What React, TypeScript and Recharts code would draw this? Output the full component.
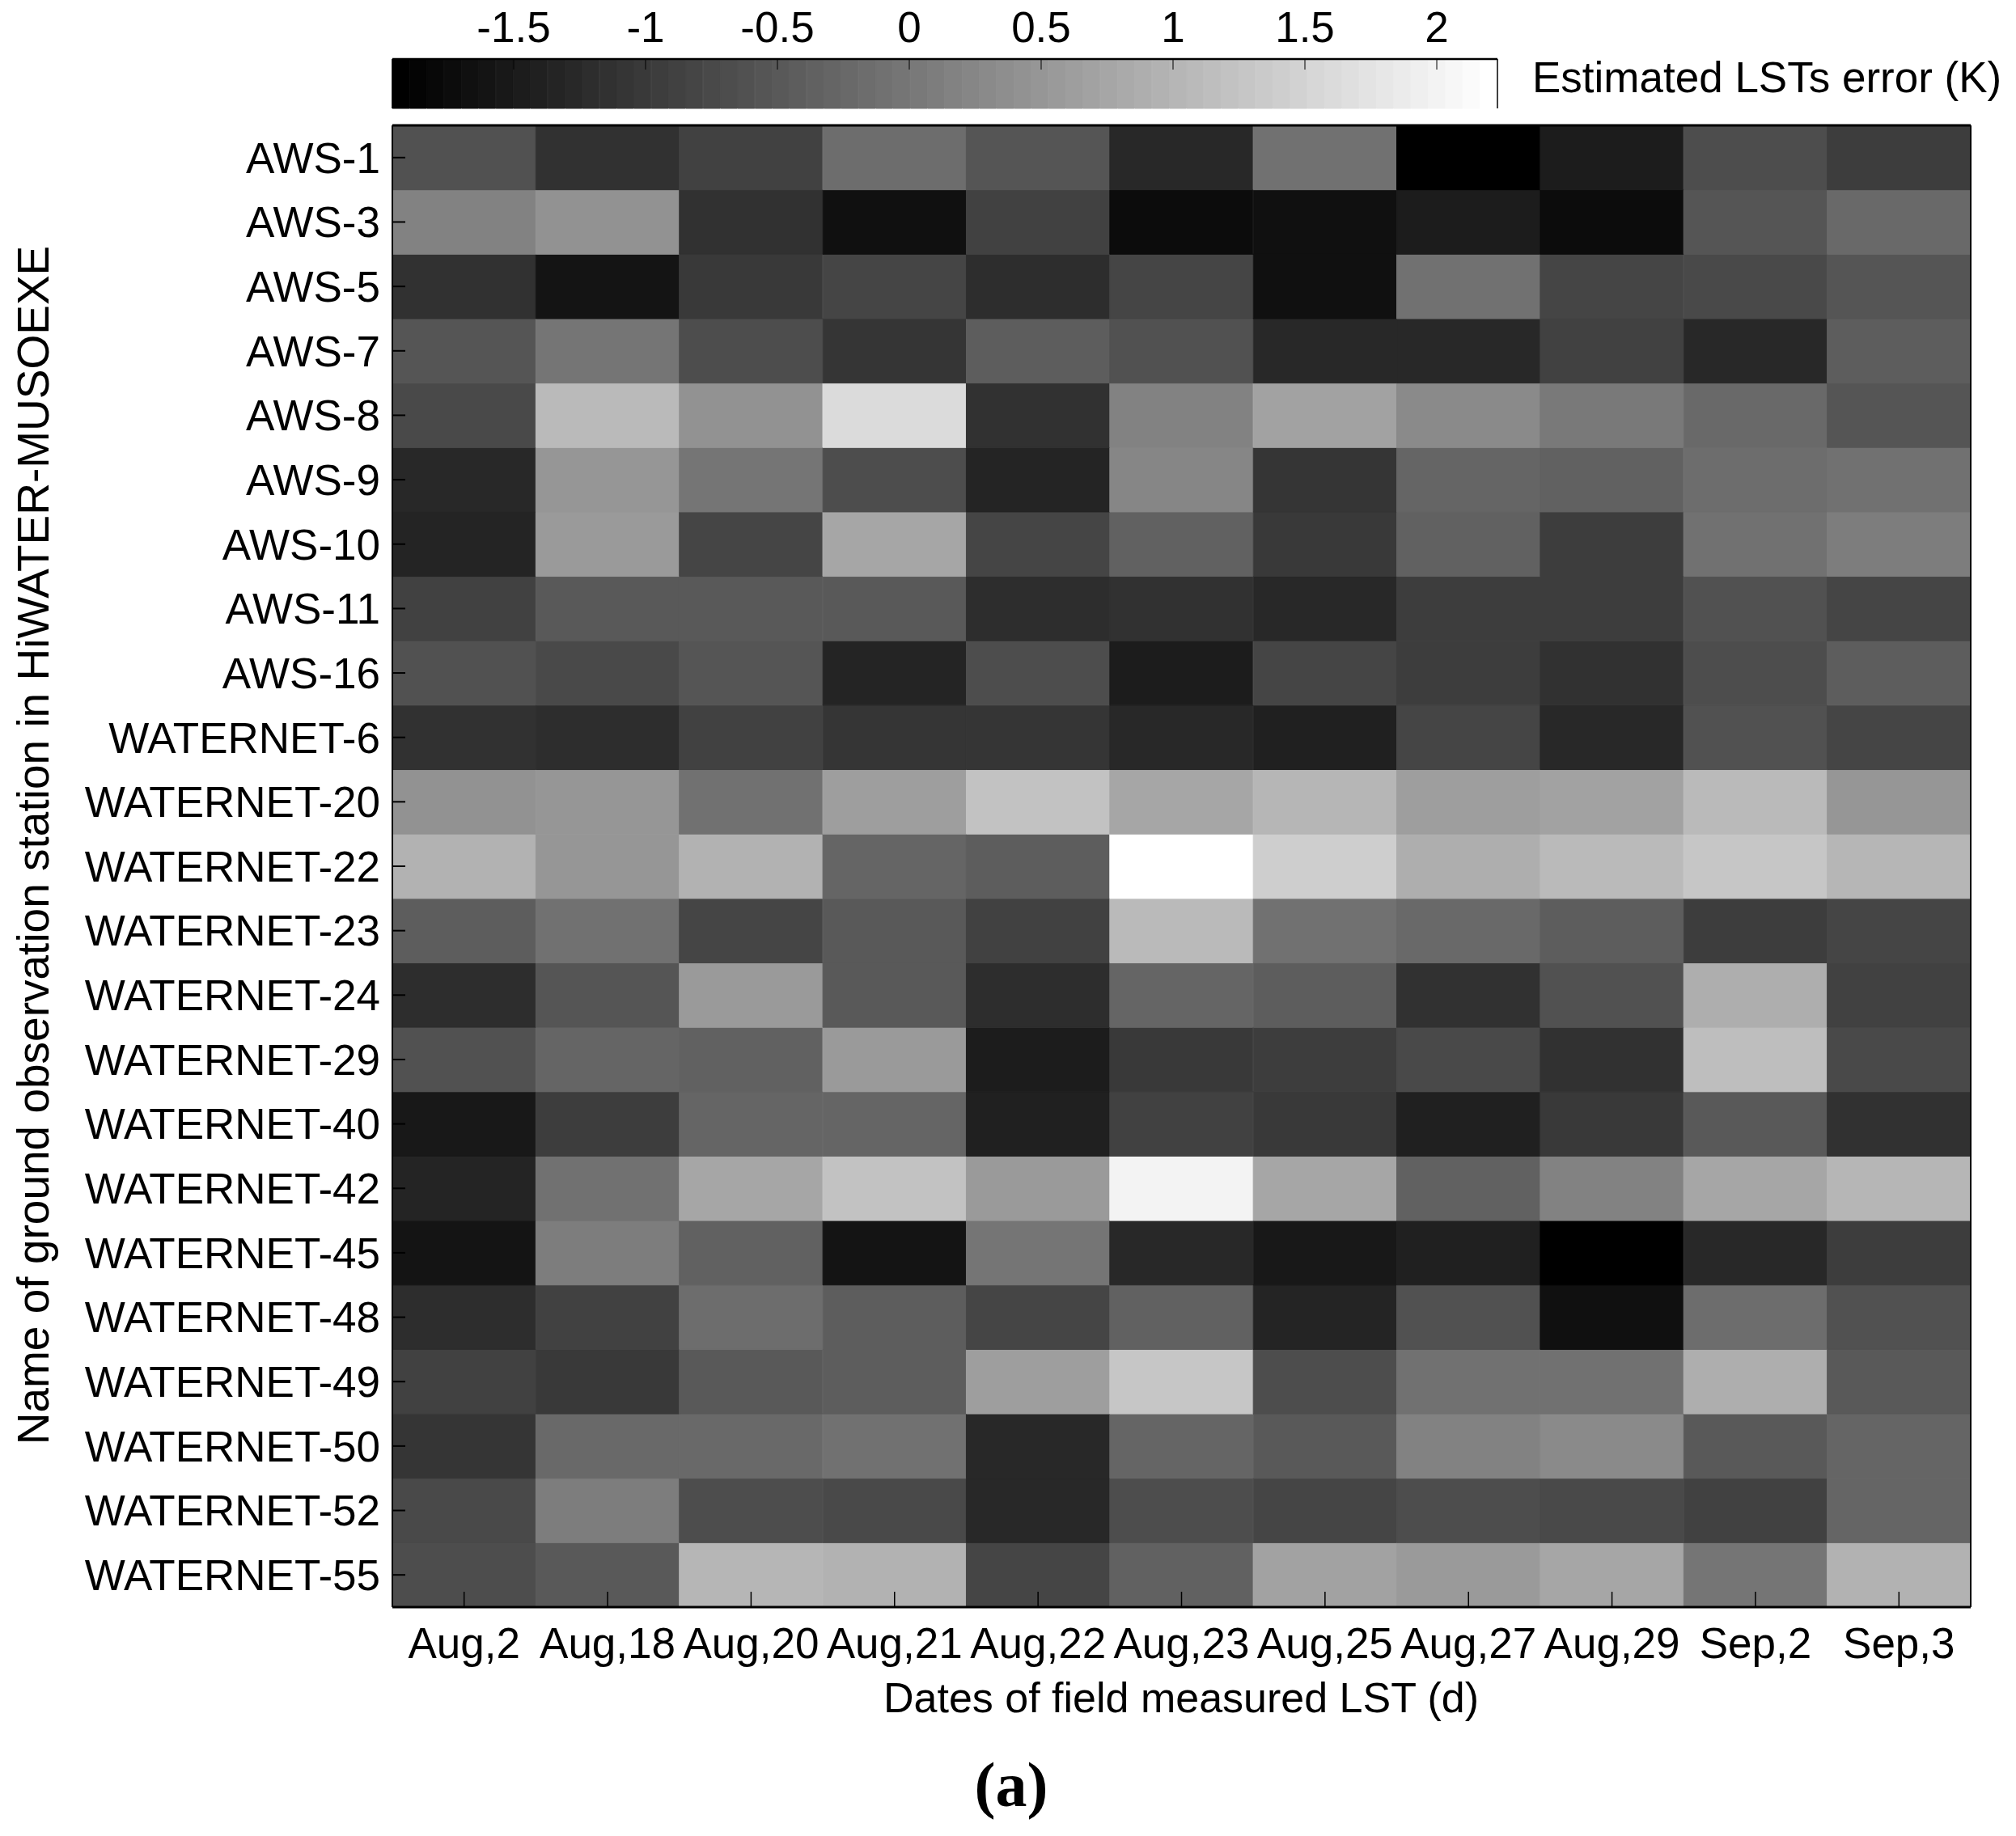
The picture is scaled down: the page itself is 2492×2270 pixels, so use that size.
import React from 'react';
import { BarChart, Bar, Cell, XAxis, YAxis } from 'recharts';

// column categories (dates) and row categories (stations, top to bottom)
const dates = ['Aug,2', 'Aug,18', 'Aug,20', 'Aug,21', 'Aug,22', 'Aug,23', 'Aug,25', 'Aug,27', 'Aug,29', 'Sep,2', 'Sep,3'];
const stations = [
  'AWS-1', 'AWS-3', 'AWS-5', 'AWS-7', 'AWS-8', 'AWS-9', 'AWS-10', 'AWS-11', 'AWS-16',
  'WATERNET-6', 'WATERNET-20', 'WATERNET-22', 'WATERNET-23', 'WATERNET-24', 'WATERNET-29',
  'WATERNET-40', 'WATERNET-42', 'WATERNET-45', 'WATERNET-48', 'WATERNET-49', 'WATERNET-50',
  'WATERNET-52', 'WATERNET-55',
];

// estimated LST error (K) per date, one value per station in the order above
const aug2 = [-0.61, 0.15, -1.12, -0.53, -0.74, -1.3, -1.37, -0.9, -0.59, -1.12, 0.42, 0.95, -0.41, -1.22, -0.61, -1.55, -1.37, -1.63, -1.22, -0.9, -1.09, -0.77, -0.69];
const aug18 = [-1.17, 0.4, -1.63, 0.0, 1.08, 0.47, 0.57, -0.49, -0.77, -1.2, 0.47, 0.47, -0.1, -0.53, -0.28, -0.95, -0.11, 0.07, -0.87, -0.99, -0.21, 0.07, -0.47];
const aug20 = [-0.9, -1.12, -0.99, -0.69, 0.45, 0.0, -0.81, -0.49, -0.53, -0.9, -0.1, 0.95, -0.82, 0.53, -0.38, -0.28, 0.78, -0.34, -0.19, -0.49, -0.21, -0.71, 1.05];
const aug21 = [-0.15, -1.68, -0.79, -1.09, 1.61, -0.71, 0.78, -0.49, -1.32, -1.07, 0.6, -0.26, -0.47, -0.47, 0.53, -0.28, 1.21, -1.63, -0.39, -0.41, -0.1, -0.77, 0.95];
const aug22 = [-0.56, -0.9, -1.19, -0.41, -1.17, -1.34, -0.79, -1.19, -0.71, -1.07, 1.21, -0.41, -0.9, -1.22, -1.5, -1.43, 0.53, -0.06, -0.82, 0.6, -1.3, -1.3, -0.84];
const aug23 = [-1.24, -1.76, -0.84, -0.61, 0.15, 0.22, -0.33, -1.14, -1.45, -1.25, 0.73, 2.23, 1.06, -0.28, -1.04, -0.9, 1.99, -1.24, -0.34, 1.26, -0.28, -0.71, -0.36];
const aug25 = [-0.11, -1.65, -1.65, -1.24, 0.72, -1.05, -0.99, -1.27, -0.82, -1.43, 0.99, 1.44, -0.1, -0.44, -0.94, -0.99, 0.78, -1.52, -1.34, -0.71, -0.49, -0.79, 0.67];
const aug27 = [-1.96, -1.45, -0.11, -1.24, 0.27, -0.28, -0.38, -0.94, -0.97, -0.84, 0.65, 0.91, -0.24, -1.17, -0.77, -1.43, -0.34, -1.43, -0.61, -0.08, 0.2, -0.71, 0.53];
const aug29 = [-1.45, -1.7, -0.84, -0.9, 0.04, -0.38, -0.94, -0.94, -1.17, -1.24, 0.72, 1.11, -0.44, -0.64, -1.12, -1.04, 0.14, -1.96, -1.65, -0.08, 0.32, -0.77, 0.78];
const sep2 = [-0.71, -0.56, -0.77, -1.25, -0.24, -0.18, -0.08, -0.61, -0.71, -0.64, 1.06, 1.26, -0.97, 0.9, 1.18, -0.47, 0.78, -1.24, -0.15, 0.86, -0.49, -0.87, -0.06];
const sep3 = [-0.92, -0.21, -0.53, -0.44, -0.57, -0.1, 0.09, -0.82, -0.39, -0.79, 0.47, 1.05, -0.79, -0.86, -0.74, -1.12, 1.05, -0.94, -0.61, -0.49, -0.29, -0.26, 0.98];

const errorsByDate = [aug2, aug18, aug20, aug21, aug22, aug23, aug25, aug27, aug29, sep2, sep3];

const CLIM: [number, number] = [-1.96, 2.23];
const colorTicks = [-1.5, -1, -0.5, 0, 0.5, 1, 1.5, 2];
const LEVELS = 64;

// matlab-like gray(64) colormap
const grayOf = (v: number) => {
  const t = (v - CLIM[0]) / (CLIM[1] - CLIM[0]);
  const idx = Math.min(LEVELS - 1, Math.max(0, Math.floor(t * LEVELS)));
  const g = Math.round((idx / (LEVELS - 1)) * 255);
  return `rgb(${g},${g},${g})`;
};

// every cell is one unit tall in the stack, its colour carries the value
const tableData = dates.map((date) => {
  const row: Record<string, string | number> = { date };
  stations.forEach((_, r) => {
    row[`s${r}`] = 1;
  });
  return row;
});

const rowTicks = stations.map((_, i) => i + 0.5);
const stationAt = (t: number) => stations[stations.length - 1 - Math.floor(t)];

// colorbar steps
const stepWidth = (CLIM[1] - CLIM[0]) / LEVELS;
const steps = Array.from({ length: LEVELS }, (_, i) => {
  const mid = CLIM[0] + (i + 0.5) * stepWidth;
  return { idx: i, mid, one: 1, fill: grayOf(mid) };
});

const FONT = 'Liberation Sans, Arial, sans-serif';
const tickStyle = { fontFamily: FONT, fontSize: 53, fill: '#000' };
const lineStyle = { stroke: '#000', strokeWidth: 1.5 };
const frameStyle = { stroke: '#000', strokeWidth: 3 };

const App: React.FC = () => {
  return (
    <div style={{ position: 'absolute', left: 0, top: 0, width: 2492, height: 2270, background: '#fff' }}>
      <div style={{ position: 'absolute', left: 0, top: 0 }}>
        <BarChart
          width={2492}
          height={2270}
          data={tableData}
          margin={{ top: 154, right: 55, bottom: 223, left: 0 }}
          barCategoryGap={0}
          barGap={0}
        >
          {stations.map((_, k) => {
            const r = stations.length - 1 - k;
            return (
              <Bar key={r} dataKey={`s${r}`} stackId="grid" isAnimationActive={false}>
                {dates.map((d, c) => {
                  const f = grayOf(errorsByDate[c][r]);
                  return <Cell key={d} fill={f} stroke={f} strokeWidth={1} />;
                })}
              </Bar>
            );
          })}
          <XAxis
            dataKey="date"
            interval={0}
            height={60}
            tickSize={-19}
            tickMargin={44}
            tick={tickStyle}
            axisLine={frameStyle}
            tickLine={lineStyle}
          />
          <XAxis
            dataKey="date"
            xAxisId="top"
            orientation="top"
            interval={0}
            height={1}
            tickSize={-19}
            tick={false}
            axisLine={frameStyle}
            tickLine={lineStyle}
          />
          <YAxis
            type="number"
            domain={[0, stations.length]}
            ticks={rowTicks}
            tickFormatter={stationAt}
            interval={0}
            width={485}
            tickSize={-16}
            tickMargin={31}
            tick={tickStyle}
            axisLine={{ stroke: '#000', strokeWidth: 2 }}
            tickLine={{ stroke: '#000', strokeWidth: 2 }}
          />
          <YAxis
            yAxisId="right"
            orientation="right"
            type="number"
            domain={[0, stations.length]}
            ticks={rowTicks}
            interval={0}
            width={1}
            tickSize={-16}
            tick={false}
            axisLine={{ stroke: '#000', strokeWidth: 2 }}
            tickLine={{ stroke: '#000', strokeWidth: 2 }}
          />
        </BarChart>
      </div>

      <div style={{ position: 'absolute', left: 0, top: 0 }}>
        <BarChart
          width={2492}
          height={150}
          data={steps}
          margin={{ top: 72, right: 640, bottom: 15, left: 484 }}
          barCategoryGap={0}
          barGap={0}
        >
          <Bar xAxisId="cat" dataKey="one" isAnimationActive={false}>
            {steps.map((s) => (
              <Cell key={s.idx} fill={s.fill} stroke={s.fill} strokeWidth={1} />
            ))}
          </Bar>
          <XAxis xAxisId="cat" dataKey="idx" hide />
          <XAxis
            xAxisId="num"
            type="number"
            dataKey="mid"
            domain={CLIM}
            allowDataOverflow
            orientation="top"
            ticks={colorTicks}
            interval={0}
            height={1}
            tickSize={-13}
            tickMargin={34}
            tick={tickStyle}
            axisLine={{ stroke: '#000', strokeWidth: 2.5 }}
            tickLine={{ stroke: '#000', strokeWidth: 1 }}
          />
          <XAxis
            xAxisId="numBottom"
            type="number"
            dataKey="mid"
            domain={CLIM}
            allowDataOverflow
            orientation="bottom"
            ticks={colorTicks}
            interval={0}
            height={1}
            tickSize={-13}
            tick={false}
            axisLine={{ stroke: '#000', strokeWidth: 2.5 }}
            tickLine={{ stroke: '#000', strokeWidth: 1 }}
          />
          <YAxis
            type="number"
            domain={[0, 1]}
            width={1}
            tick={false}
            tickLine={false}
            axisLine={{ stroke: '#000', strokeWidth: 1.5 }}
          />
          <YAxis
            yAxisId="cbRight"
            orientation="right"
            type="number"
            domain={[0, 1]}
            width={1}
            tick={false}
            tickLine={false}
            axisLine={{ stroke: '#000', strokeWidth: 1.5 }}
          />
        </BarChart>
      </div>

      <svg
        width={2492}
        height={2270}
        style={{ position: 'absolute', left: 0, top: 0, pointerEvents: 'none' }}
      >
        <text x={1894} y={114} fontFamily={FONT} fontSize={53} fill="#000">
          Estimated LSTs error (K)
        </text>
        <text
          x={60}
          y={1045}
          transform="rotate(-90, 60, 1045)"
          textAnchor="middle"
          fontFamily={FONT}
          fontSize={55}
          fill="#000"
        >
          Name of ground observation station in HiWATER-MUSOEXE
        </text>
        <text x={1460} y={2117} textAnchor="middle" fontFamily={FONT} fontSize={52} fill="#000">
          Dates of field measured LST (d)
        </text>
        <text
          x={1250}
          y={2233}
          textAnchor="middle"
          fontFamily="Liberation Serif, Times New Roman, serif"
          fontWeight="bold"
          fontSize={78}
          fill="#000"
        >
          (a)
        </text>
      </svg>
    </div>
  );
};

export default App;
